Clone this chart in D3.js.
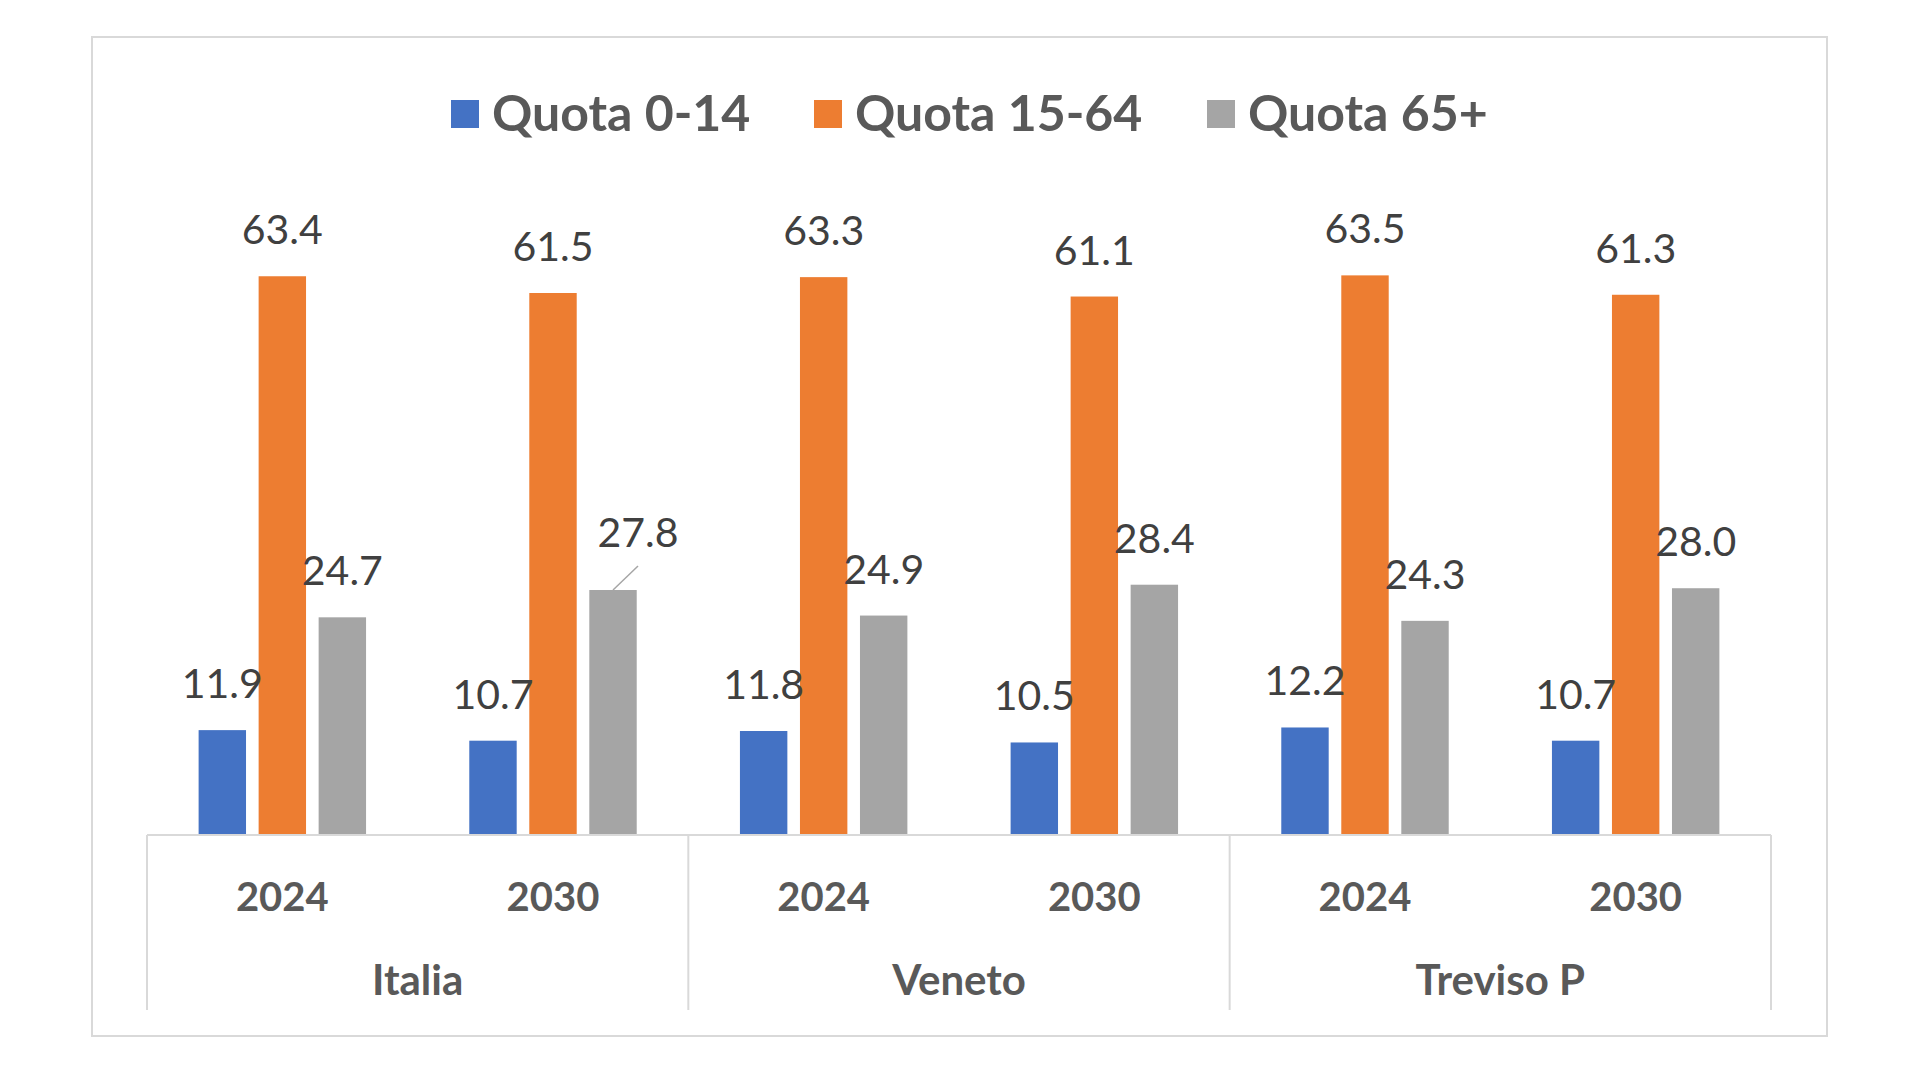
<!DOCTYPE html>
<html>
<head>
<meta charset="utf-8">
<script src="https://cdn.jsdelivr.net/npm/d3@7"></script>
<style>
  html, body { margin: 0; padding: 0; background: #ffffff; }
  svg { display: block; }
  text { font-family: Lato, "Open Sans", sans-serif; }
</style>
</head>
<body>
<svg id="chart" width="1920" height="1080"></svg>
<script>
// ---- data ----
const groups = ["Italia", "Veneto", "Treviso P"];
const years = ["2024", "2030"];
const seriesNames = ["Quota 0-14", "Quota 15-64", "Quota 65+"];
const quota0_14 = [11.9, 10.7, 11.8, 10.5, 12.2, 10.7];
const quota15_64 = [63.4, 61.5, 63.3, 61.1, 63.5, 61.3];
const quota65 = [24.7, 27.8, 24.9, 28.4, 24.3, 28.0];
const colors = ["#4472C4", "#ED7D31", "#A5A5A5"];

const seriesValues = [quota0_14, quota15_64, quota65];
const slots = [];
groups.forEach(g => years.forEach(y => slots.push(g + "|" + y)));

const svg = d3.select("#chart");

// outer chart border
svg.append("rect")
  .attr("x", 92).attr("y", 37)
  .attr("width", 1827 - 92).attr("height", 1036 - 37)
  .attr("fill", "#ffffff")
  .attr("stroke", "#d9d9d9").attr("stroke-width", 2);

const plotLeft = 147, plotRight = 1771, baseY = 835;

const x0 = d3.scaleBand().domain(slots).range([plotLeft, plotRight]).padding(0);
const x1 = d3.scaleBand().domain(seriesNames).range([0, x0.bandwidth()])
  .paddingInner(0.21).paddingOuter(0.86);
const y = d3.scaleLinear().domain([0, 70]).range([baseY, baseY - 70 * 8.813]);

// bars
const barData = [];
slots.forEach((s, i) => {
  seriesNames.forEach((name, k) => {
    barData.push({ slot: s, series: name, k: k, i: i, value: seriesValues[k][i] });
  });
});

svg.append("g").selectAll("rect").data(barData).join("rect")
  .attr("x", d => x0(d.slot) + x1(d.series))
  .attr("y", d => y(d.value))
  .attr("width", x1.bandwidth())
  .attr("height", d => baseY - y(d.value))
  .attr("fill", d => colors[d.k]);

// data labels
const fmt = d3.format(".1f");
const labelOffsets = { "Italia|2030|Quota 65+": { dx: 25, dy: -11, leader: true } };
const lg = svg.append("g");
barData.forEach(d => {
  const cx = x0(d.slot) + x1(d.series) + x1.bandwidth() / 2;
  const top = y(d.value);
  const off = labelOffsets[d.slot + "|" + d.series] || { dx: 0, dy: 0 };
  if (off.leader) {
    lg.append("line")
      .attr("x1", cx).attr("y1", top)
      .attr("x2", cx + off.dx).attr("y2", top - 24)
      .attr("stroke", "#a6a6a6").attr("stroke-width", 1.5);
  }
  lg.append("text")
    .attr("x", cx + off.dx)
    .attr("y", top - 32 + off.dy)
    .attr("text-anchor", "middle")
    .attr("font-size", 41)
    .attr("fill", "#404040")
    .text(fmt(d.value));
});

// category axis (multi-level)
const ax = svg.append("g").attr("stroke", "#d9d9d9").attr("stroke-width", 2);
ax.append("line").attr("x1", plotLeft).attr("x2", plotRight).attr("y1", baseY).attr("y2", baseY);
const groupW = (plotRight - plotLeft) / groups.length;
d3.range(groups.length + 1).forEach(j => {
  const xx = plotLeft + j * groupW;
  ax.append("line").attr("x1", xx).attr("x2", xx).attr("y1", baseY).attr("y2", 1010);
});

svg.append("g").selectAll("text").data(slots).join("text")
  .attr("x", d => x0(d) + x0.bandwidth() / 2)
  .attr("y", 911)
  .attr("text-anchor", "middle")
  .attr("font-size", 40)
  .attr("font-weight", "bold")
  .attr("fill", "#595959")
  .text(d => d.split("|")[1]);

svg.append("g").selectAll("text").data(groups).join("text")
  .attr("x", (d, j) => plotLeft + j * groupW + groupW / 2)
  .attr("y", 995)
  .attr("text-anchor", "middle")
  .attr("font-size", 42)
  .attr("font-weight", "bold")
  .attr("fill", "#595959")
  .text(d => d);

// legend
const legend = svg.append("g");
const legX = [451, 814, 1207];
seriesNames.forEach((name, k) => {
  legend.append("rect")
    .attr("x", legX[k]).attr("y", 100)
    .attr("width", 28).attr("height", 28)
    .attr("fill", colors[k]);
  legend.append("text")
    .attr("x", legX[k] + 41).attr("y", 131)
    .attr("font-size", 50)
    .attr("font-weight", "bold")
    .attr("fill", "#595959")
    .text(name);
});
</script>
</body>
</html>
